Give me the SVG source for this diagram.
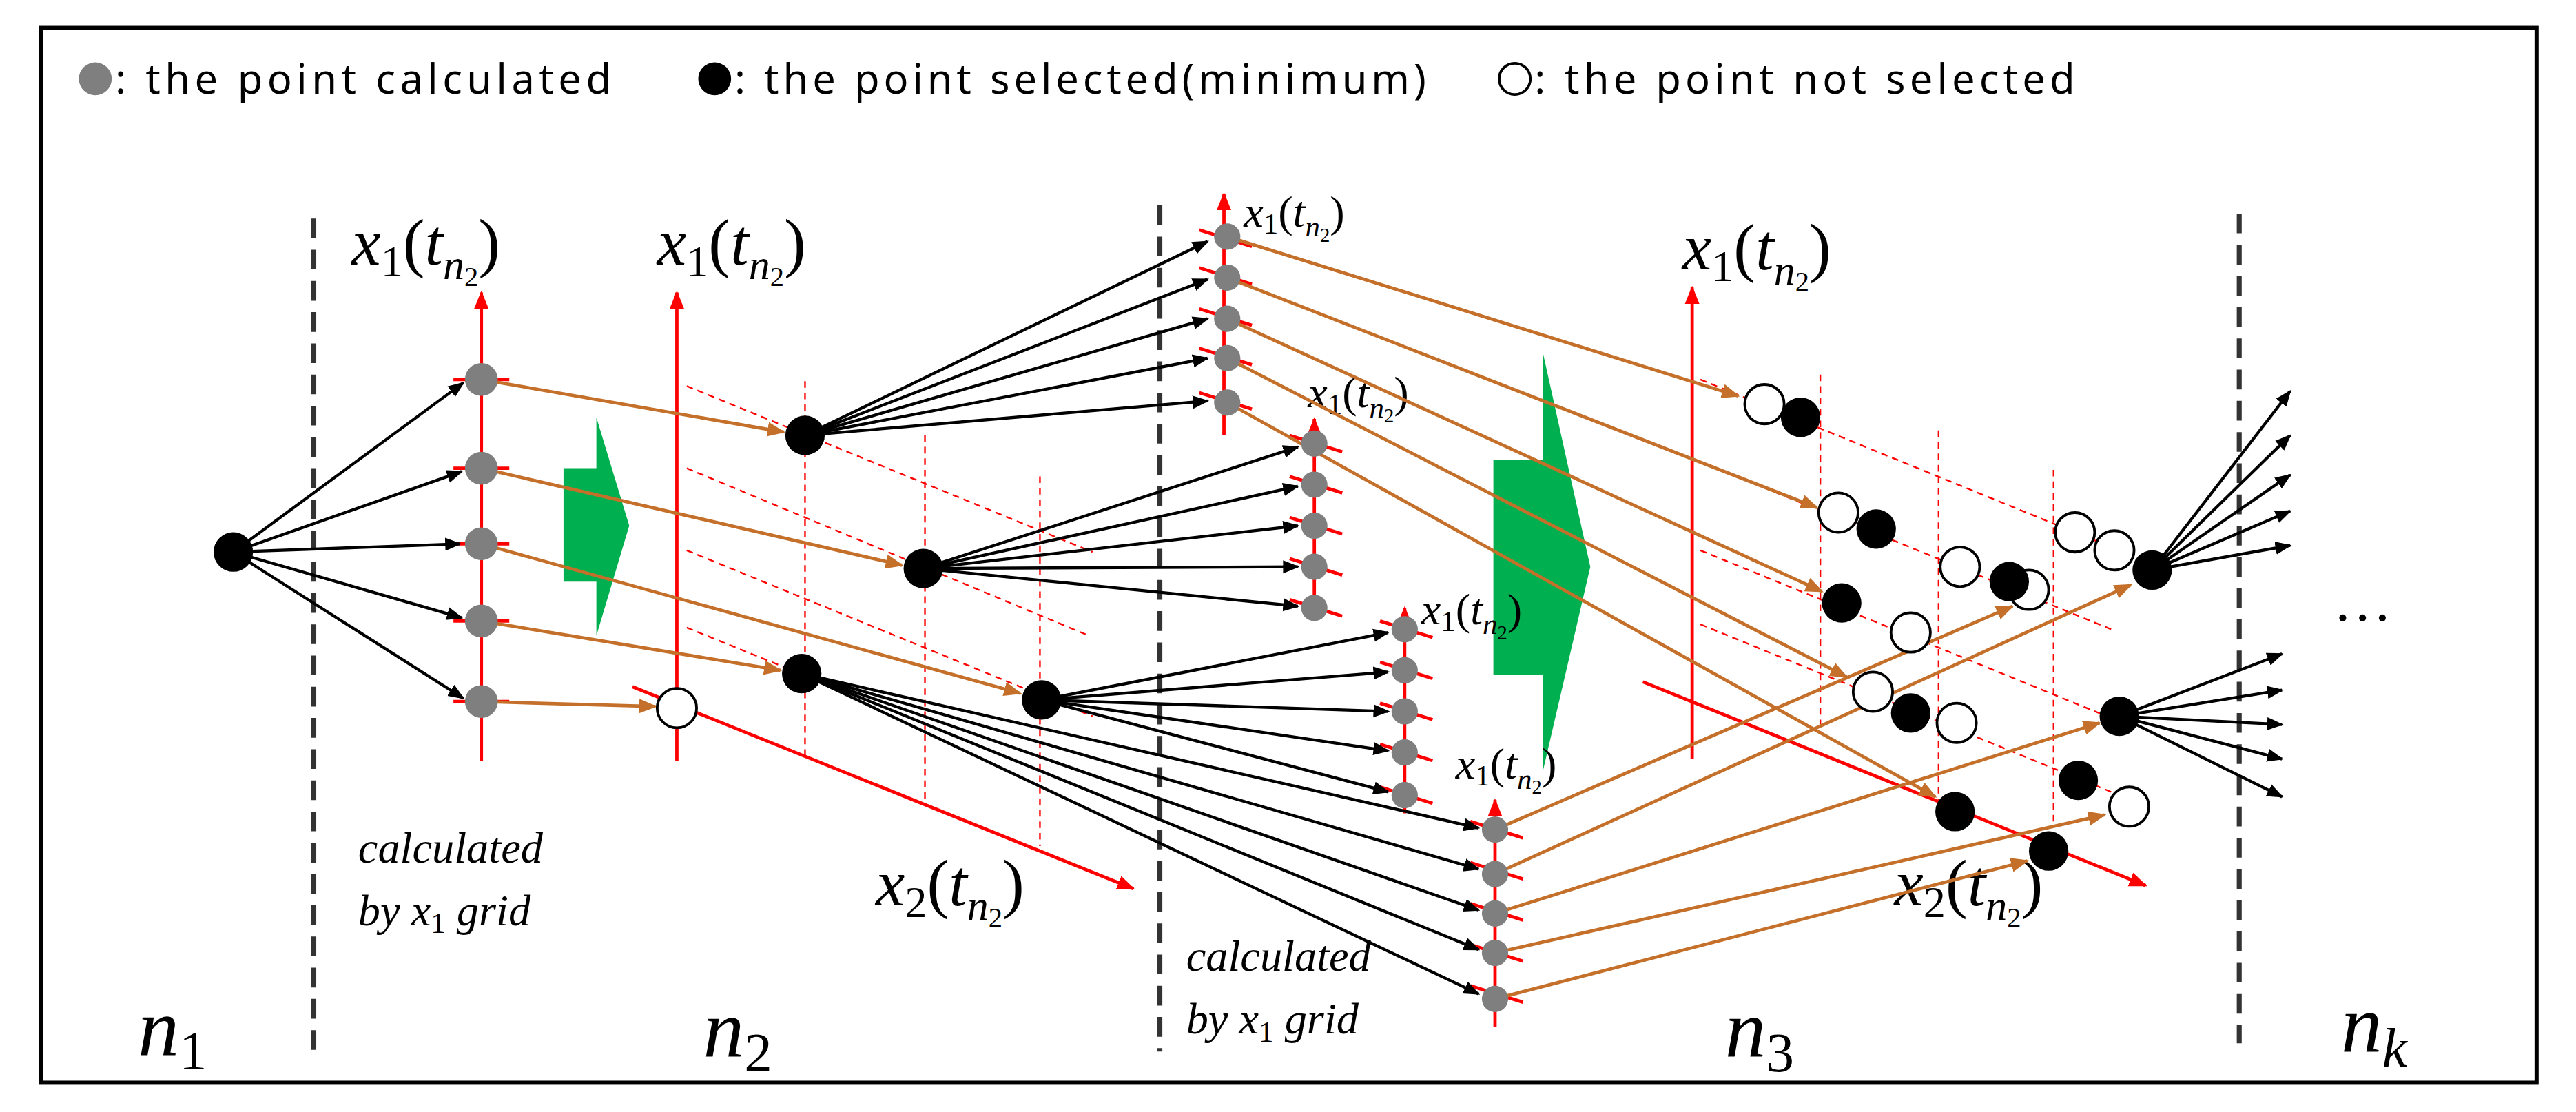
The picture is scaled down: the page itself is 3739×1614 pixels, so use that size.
<svg xmlns="http://www.w3.org/2000/svg" width="3739" height="1614" viewBox="0 0 3739 1614">
<style>
.g{fill:#7f7f7f}.b{fill:#000}.o{fill:#fff;stroke:#000;stroke-width:1.6}
.bl{stroke:#000;stroke-width:1.8;fill:none;marker-end:url(#ab)}
.or{stroke:#c5702a;stroke-width:2;fill:none;marker-end:url(#ao)}
.ax{stroke:#ff0000;stroke-width:2;fill:none;marker-end:url(#ar)}
.tk{stroke:#ff0000;stroke-width:2}
.dr{stroke:#ff0000;stroke-width:1;stroke-dasharray:4 3;fill:none}
.dk{stroke:#333;stroke-width:3;stroke-dasharray:12 7;fill:none}
.lg{font-family:"Noto Sans","DejaVu Sans",sans-serif;font-size:25px;fill:#000}
.m{font-family:"Liberation Serif","DejaVu Serif",serif;fill:#000}
.i{font-style:italic}
</style>
<defs>
<marker id="ab" viewBox="0 0 10 10" refX="9" refY="5" markerWidth="10" markerHeight="10" markerUnits="userSpaceOnUse" orient="auto"><path d="M0,1 L10,5 L0,9 z" fill="#000"/></marker>
<marker id="ao" viewBox="0 0 10 10" refX="9" refY="5" markerWidth="11" markerHeight="11" markerUnits="userSpaceOnUse" orient="auto"><path d="M0,1 L10,5 L0,9 z" fill="#c5702a"/></marker>
<marker id="ar" viewBox="0 0 10 10" refX="9" refY="5" markerWidth="11" markerHeight="11" markerUnits="userSpaceOnUse" orient="auto"><path d="M0,1 L10,5 L0,9 z" fill="#ff0000"/></marker>
</defs>
<rect width="3739" height="1614" fill="#fff"/>
<g transform="scale(2.3846)">
<rect x="25" y="17" width="1519" height="642" fill="none" stroke="#000" stroke-width="2.5"/>
<g id="legend">
<circle class="g" cx="58" cy="48" r="10"/><text class="lg" x="70" y="57" textLength="302" lengthAdjust="spacing">: the point calculated</text>
<circle class="b" cx="435" cy="48" r="10"/><text class="lg" x="447" y="57" textLength="421" lengthAdjust="spacing">: the point selected(minimum)</text>
<circle class="o" cx="922" cy="48" r="9.5"/><text class="lg" x="934" y="57" textLength="329" lengthAdjust="spacing">: the point not selected</text>
</g>
<g id="separators">
<line class="dk" x1="191" y1="133" x2="191" y2="640"/>
<line class="dk" x1="706" y1="125" x2="706" y2="640"/>
<line class="dk" x1="1363" y1="130" x2="1363" y2="635"/>
</g>
<g id="green-arrows">
<polygon points="343,285 363,285 363,254 383,320 363,387 363,354 343,354" fill="#00b050"/>
<polygon points="909,280 939,280 939,214 968,345 939,470 939,411 909,411" fill="#00b050"/>
</g>
<g id="labels" class="m">
<text x="84" y="642" font-size="50" class="i">n<tspan font-size="34" dy="9" font-style="normal">1</tspan></text>
<text x="428" y="643" font-size="50" class="i">n<tspan font-size="34" dy="9" font-style="normal">2</tspan></text>
<text x="1050" y="643" font-size="50" class="i">n<tspan font-size="34" dy="9" font-style="normal">3</tspan></text>
<text x="1425" y="640" font-size="50" class="i">n<tspan font-size="34" dy="9">k</tspan></text>
<text x="1420" y="378" font-size="36">…</text>
<text x="218" y="525" font-size="27" class="i">calculated</text>
<text x="218" y="563" font-size="27" class="i">by x<tspan font-size="18" dy="5" font-style="normal">1</tspan><tspan dy="-5"> grid</tspan></text>
<text x="722" y="591" font-size="27" class="i">calculated</text>
<text x="722" y="629" font-size="27" class="i">by x<tspan font-size="18" dy="5" font-style="normal">1</tspan><tspan dy="-5"> grid</tspan></text>
<text x="214" y="161" font-size="40"><tspan class="i">x</tspan><tspan font-size="27" dy="7">1</tspan><tspan dy="-7">(</tspan><tspan class="i">t</tspan><tspan class="i" font-size="26" dy="9">n</tspan><tspan font-size="17" dy="4">2</tspan><tspan dy="-13">)</tspan></text>
<text x="400" y="161" font-size="40"><tspan class="i">x</tspan><tspan font-size="27" dy="7">1</tspan><tspan dy="-7">(</tspan><tspan class="i">t</tspan><tspan class="i" font-size="26" dy="9">n</tspan><tspan font-size="17" dy="4">2</tspan><tspan dy="-13">)</tspan></text>
<text x="1024" y="164" font-size="40"><tspan class="i">x</tspan><tspan font-size="27" dy="7">1</tspan><tspan dy="-7">(</tspan><tspan class="i">t</tspan><tspan class="i" font-size="26" dy="9">n</tspan><tspan font-size="17" dy="4">2</tspan><tspan dy="-13">)</tspan></text>
<text x="533" y="551" font-size="40"><tspan class="i">x</tspan><tspan font-size="27" dy="7">2</tspan><tspan dy="-7">(</tspan><tspan class="i">t</tspan><tspan class="i" font-size="26" dy="9">n</tspan><tspan font-size="17" dy="4">2</tspan><tspan dy="-13">)</tspan></text>
<text x="1153" y="551" font-size="40"><tspan class="i">x</tspan><tspan font-size="27" dy="7">2</tspan><tspan dy="-7">(</tspan><tspan class="i">t</tspan><tspan class="i" font-size="26" dy="9">n</tspan><tspan font-size="17" dy="4">2</tspan><tspan dy="-13">)</tspan></text>
<text x="757" y="138" font-size="27"><tspan class="i">x</tspan><tspan font-size="18" dy="4">1</tspan><tspan dy="-4">(</tspan><tspan class="i">t</tspan><tspan class="i" font-size="18" dy="6">n</tspan><tspan font-size="12" dy="3">2</tspan><tspan dy="-9">)</tspan></text>
<text x="796" y="248" font-size="27"><tspan class="i">x</tspan><tspan font-size="18" dy="4">1</tspan><tspan dy="-4">(</tspan><tspan class="i">t</tspan><tspan class="i" font-size="18" dy="6">n</tspan><tspan font-size="12" dy="3">2</tspan><tspan dy="-9">)</tspan></text>
<text x="865" y="380" font-size="27"><tspan class="i">x</tspan><tspan font-size="18" dy="4">1</tspan><tspan dy="-4">(</tspan><tspan class="i">t</tspan><tspan class="i" font-size="18" dy="6">n</tspan><tspan font-size="12" dy="3">2</tspan><tspan dy="-9">)</tspan></text>
<text x="886" y="474" font-size="27"><tspan class="i">x</tspan><tspan font-size="18" dy="4">1</tspan><tspan dy="-4">(</tspan><tspan class="i">t</tspan><tspan class="i" font-size="18" dy="6">n</tspan><tspan font-size="12" dy="3">2</tspan><tspan dy="-9">)</tspan></text>
</g>
<g id="axes">
<line class="ax" x1="293" y1="463" x2="293" y2="178"/>
<line class="ax" x1="412" y1="463" x2="412" y2="178"/>
<line class="ax" x1="385" y1="418" x2="690" y2="541"/>
<line class="ax" x1="1030" y1="462" x2="1030" y2="175"/>
<line class="ax" x1="1000" y1="415" x2="1306" y2="539"/>
<line class="ax" x1="745" y1="265" x2="745" y2="118"/>
<line class="ax" x1="800" y1="378" x2="800" y2="255"/>
<line class="ax" x1="855" y1="495" x2="855" y2="370"/>
<line class="ax" x1="910" y1="625" x2="910" y2="487"/>
<path class="tk" d="M276,231h34M276,285h34M276,331h34M276,378h34M276,427h34"/>
<path class="tk" d="M730,140l32,10M730,163l32,10M730,188l32,10M730,212l32,10M730,239l32,10"/>
<path class="tk" d="M785,265l32,10M785,290l32,10M785,315l32,10M785,340l32,10M785,365l32,10"/>
<path class="tk" d="M840,378l32,10M840,403l32,10M840,428l32,10M840,453l32,10M840,479l32,10"/>
<path class="tk" d="M895,500l32,10M895,525l32,10M895,550l32,10M895,575l32,10M895,600l32,10"/>
</g>
<g id="grid">
<line class="dr" x1="490" y1="232" x2="490" y2="460"/>
<line class="dr" x1="563" y1="265" x2="563" y2="490"/>
<line class="dr" x1="633" y1="290" x2="633" y2="515"/>
<line class="dr" x1="418" y1="235" x2="665" y2="336"/>
<line class="dr" x1="418" y1="285" x2="663" y2="387"/>
<line class="dr" x1="418" y1="335" x2="665" y2="436"/>
<line class="dr" x1="418" y1="382" x2="665" y2="482"/>
<line class="dr" x1="1108" y1="228" x2="1108" y2="447"/>
<line class="dr" x1="1180" y1="262" x2="1180" y2="500"/>
<line class="dr" x1="1250" y1="286" x2="1250" y2="504"/>
<line class="dr" x1="1035" y1="231" x2="1285" y2="333"/>
<line class="dr" x1="1035" y1="281" x2="1285" y2="383"/>
<line class="dr" x1="1035" y1="335" x2="1285" y2="437"/>
<line class="dr" x1="1035" y1="380" x2="1285" y2="482"/>
</g>
<g id="connectors">
<line class="bl" x1="142" y1="336" x2="282" y2="233"/>
<line class="bl" x1="142" y1="336" x2="281" y2="287"/>
<line class="bl" x1="142" y1="336" x2="280" y2="331"/>
<line class="bl" x1="142" y1="336" x2="281" y2="376"/>
<line class="bl" x1="142" y1="336" x2="282" y2="425"/>
<line class="or" x1="293" y1="231" x2="477" y2="263"/>
<line class="or" x1="293" y1="285" x2="549" y2="344"/>
<line class="or" x1="293" y1="331" x2="621" y2="422"/>
<line class="or" x1="293" y1="378" x2="475" y2="408"/>
<line class="or" x1="293" y1="427" x2="399" y2="430"/>
<line class="bl" x1="490" y1="265" x2="735" y2="147"/>
<line class="bl" x1="490" y1="265" x2="735" y2="170"/>
<line class="bl" x1="490" y1="265" x2="735" y2="194"/>
<line class="bl" x1="490" y1="265" x2="735" y2="218"/>
<line class="bl" x1="490" y1="265" x2="735" y2="244"/>
<line class="bl" x1="562" y1="346" x2="790" y2="272"/>
<line class="bl" x1="562" y1="346" x2="790" y2="296"/>
<line class="bl" x1="562" y1="346" x2="790" y2="320"/>
<line class="bl" x1="562" y1="346" x2="790" y2="345"/>
<line class="bl" x1="562" y1="346" x2="790" y2="369"/>
<line class="bl" x1="634" y1="426" x2="845" y2="385"/>
<line class="bl" x1="634" y1="426" x2="845" y2="409"/>
<line class="bl" x1="634" y1="426" x2="845" y2="433"/>
<line class="bl" x1="634" y1="426" x2="845" y2="457"/>
<line class="bl" x1="634" y1="426" x2="845" y2="482"/>
<line class="bl" x1="488" y1="410" x2="900" y2="504"/>
<line class="bl" x1="488" y1="410" x2="900" y2="529"/>
<line class="bl" x1="488" y1="410" x2="900" y2="554"/>
<line class="bl" x1="488" y1="410" x2="900" y2="578"/>
<line class="bl" x1="488" y1="410" x2="900" y2="605"/>
<line class="or" x1="747" y1="144" x2="1058" y2="241"/>
<line class="or" x1="747" y1="169" x2="1106" y2="309"/>
<line class="or" x1="747" y1="194" x2="1109" y2="360"/>
<line class="or" x1="747" y1="218" x2="1124" y2="412"/>
<line class="or" x1="747" y1="245" x2="1178" y2="485"/>
<line class="or" x1="910" y1="505" x2="1225" y2="369"/>
<line class="or" x1="910" y1="532" x2="1297" y2="356"/>
<line class="or" x1="910" y1="556" x2="1278" y2="440"/>
<line class="or" x1="910" y1="580" x2="1281" y2="496"/>
<line class="or" x1="910" y1="608" x2="1234" y2="524"/>
<line class="bl" x1="1310" y1="347" x2="1394" y2="238"/>
<line class="bl" x1="1310" y1="347" x2="1394" y2="265"/>
<line class="bl" x1="1310" y1="347" x2="1394" y2="289"/>
<line class="bl" x1="1310" y1="347" x2="1394" y2="311"/>
<line class="bl" x1="1310" y1="347" x2="1394" y2="332"/>
<line class="bl" x1="1290" y1="436" x2="1389" y2="398"/>
<line class="bl" x1="1290" y1="436" x2="1389" y2="420"/>
<line class="bl" x1="1290" y1="436" x2="1389" y2="441"/>
<line class="bl" x1="1290" y1="436" x2="1389" y2="462"/>
<line class="bl" x1="1290" y1="436" x2="1389" y2="485"/>
</g>
<g id="n1"><circle class="b" cx="142" cy="336" r="12"/></g>
<g id="calc1"><circle class="g" cx="293" cy="231" r="10"/><circle class="g" cx="293" cy="285" r="10"/><circle class="g" cx="293" cy="331" r="10"/><circle class="g" cx="293" cy="378" r="10"/><circle class="g" cx="293" cy="427" r="10"/></g>
<g id="sel2"><circle class="o" cx="412" cy="431" r="12"/><circle class="b" cx="490" cy="265" r="12"/><circle class="b" cx="562" cy="346" r="12"/><circle class="b" cx="488" cy="410" r="12"/><circle class="b" cx="634" cy="426" r="12"/></g>
<g id="calc2a"><circle class="g" cx="747" cy="144" r="8"/><circle class="g" cx="747" cy="169" r="8"/><circle class="g" cx="747" cy="194" r="8"/><circle class="g" cx="747" cy="218" r="8"/><circle class="g" cx="747" cy="245" r="8"/></g>
<g id="calc2b"><circle class="g" cx="800" cy="270" r="8"/><circle class="g" cx="800" cy="295" r="8"/><circle class="g" cx="800" cy="320" r="8"/><circle class="g" cx="800" cy="345" r="8"/><circle class="g" cx="800" cy="370" r="8"/></g>
<g id="calc2c"><circle class="g" cx="855" cy="383" r="8"/><circle class="g" cx="855" cy="408" r="8"/><circle class="g" cx="855" cy="433" r="8"/><circle class="g" cx="855" cy="458" r="8"/><circle class="g" cx="855" cy="484" r="8"/></g>
<g id="calc2d"><circle class="g" cx="910" cy="505" r="8"/><circle class="g" cx="910" cy="532" r="8"/><circle class="g" cx="910" cy="556" r="8"/><circle class="g" cx="910" cy="580" r="8"/><circle class="g" cx="910" cy="608" r="8"/></g>
<g id="sel3">
<circle class="o" cx="1074" cy="246" r="12"/><circle class="b" cx="1096" cy="254" r="12"/>
<circle class="o" cx="1119" cy="312" r="12"/><circle class="b" cx="1142" cy="322" r="12"/>
<circle class="b" cx="1121" cy="367" r="12"/>
<circle class="o" cx="1193" cy="345" r="12"/><circle class="o" cx="1235" cy="359" r="12"/><circle class="b" cx="1223" cy="354" r="12"/>
<circle class="o" cx="1163" cy="385" r="12"/>
<circle class="o" cx="1140" cy="421" r="12"/><circle class="b" cx="1163" cy="434" r="12"/>
<circle class="o" cx="1191" cy="440" r="12"/>
<circle class="b" cx="1190" cy="494" r="12"/>
<circle class="b" cx="1265" cy="475" r="12"/><circle class="o" cx="1296" cy="491" r="12"/>
<circle class="b" cx="1247" cy="518" r="12"/>
<circle class="o" cx="1263" cy="324" r="12"/><circle class="o" cx="1287" cy="335" r="12"/><circle class="b" cx="1310" cy="347" r="12"/>
<circle class="b" cx="1290" cy="436" r="12"/>
</g>
</g>
</svg>
